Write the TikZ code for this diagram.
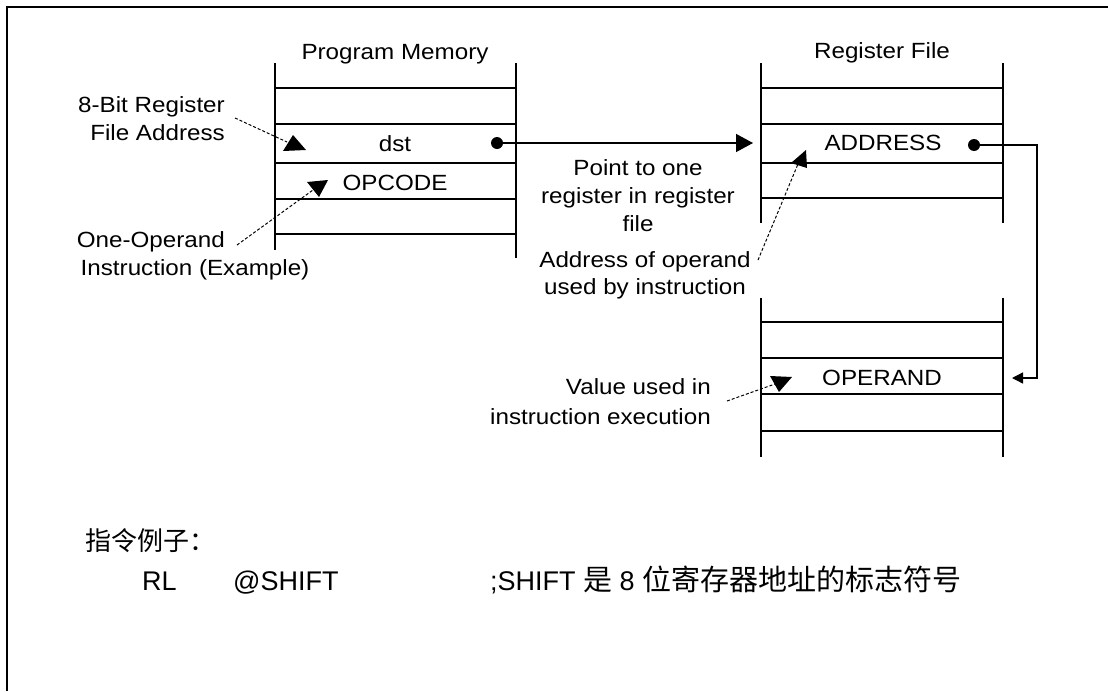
\documentclass[tikz,border=0pt]{standalone}
\usepackage{fontspec}
\setmainfont{Liberation Sans}
\newfontfamily\diagfont[FakeStretch=1.1]{Liberation Sans}
\newfontfamily\cjkfont{Noto Sans CJK SC}
\usetikzlibrary{arrows.meta}
\begin{document}
\begin{tikzpicture}[x=1pt,y=-1pt,
  lbl/.style={font=\diagfont\fontsize{22}{28}\selectfont, inner sep=0pt},
  cell/.style={line width=1.4pt},
  note/.style={line width=1pt, dash pattern=on 3pt off 2pt},
  dotc/.style={fill=black, circle, minimum size=12pt, inner sep=0pt},
  btxt/.style={font=\fontsize{27}{32}\selectfont, inner sep=0pt},
  link/.style={line width=1.4pt}]
\useasboundingbox (0,0) rectangle (1108,691);
\fill[white] (0,0) rectangle (1108,691);
\draw[line width=2pt] (7,691) -- (7,7) -- (1108,7);

% Program memory
\draw[cell] (275,63) -- (275,250);
\draw[cell] (516,63) -- (516,258);
\foreach \y in {88,124,163,199,234} \draw[cell] (275,\y) -- (516,\y);

% Register file (upper)
\draw[cell] (761,63) -- (761,223);
\draw[cell] (1003,63) -- (1003,223);
\foreach \y in {88,124,163,198} \draw[cell] (761,\y) -- (1003,\y);

% Register file (lower)
\draw[cell] (761,298) -- (761,457);
\draw[cell] (1003,298) -- (1003,457);
\foreach \y in {322,358,394,431} \draw[cell] (761,\y) -- (1003,\y);

% titles and cell texts
\node[lbl,anchor=base] (pmt) at (395,59) {Program Memory};
\node[lbl,anchor=base] (rft) at (882,58) {Register File};
\node[lbl,anchor=base] (dst) at (395,151) {dst};
\node[lbl,anchor=base] (opc) at (395,190) {OPCODE};
\node[lbl,anchor=base] (adr) at (883,150) {ADDRESS};
\node[lbl,anchor=base] (opr) at (882,385) {OPERAND};

% annotations
\node[lbl,anchor=base east] (l1a) at (225,112) {8-Bit Register};
\node[lbl,anchor=base east] (l1b) at (225,140) {File Address};
\node[lbl,anchor=base east] (l2a) at (225,247) {One-Operand};
\node[lbl,anchor=base] (l2b) at (195,275) {Instruction (Example)};
\node[lbl,anchor=base] (p1) at (638,175) {Point to one};
\node[lbl,anchor=base] (p2) at (638,203) {register in register};
\node[lbl,anchor=base] (p3) at (638,231) {file};
\node[lbl,anchor=base] (a1) at (645,267) {Address of operand};
\node[lbl,anchor=base] (a2) at (645,294) {used by instruction};
\node[lbl,anchor=base east] (v1) at (711,394) {Value used in};
\node[lbl,anchor=base east] (v2) at (711,424) {instruction execution};

% connectors
\node[dotc] (d1) at (497,143) {};
\node[dotc] (d2) at (974,145) {};
\coordinate (rfin) at (753,143);
\coordinate (opin) at (1012,378);
\draw[link, -{Triangle[length=17pt,width=18pt]}] (d1.center) -- (rfin);
\draw[link, -{Triangle[length=11pt,width=11pt]}] (d2.center) -- (1037,145) |- (opin);

% dashed pointers with heads
\coordinate (s1) at (235,118); \coordinate (e1) at (287,142);
\draw[note] (s1) -- (e1);
\fill (283,151) -- (306,150) -- (293,135) -- cycle;
\coordinate (s2) at (237,245); \coordinate (e2) at (313,190);
\draw[note] (s2) -- (e2);
\fill (307,182) -- (328,180) -- (319,197) -- cycle;
\coordinate (s3) at (758,260); \coordinate (e3) at (798,164);
\draw[note] (s3) -- (e3);
\fill (791,163) -- (807,168) -- (806,150) -- cycle;
\coordinate (s4) at (727,401); \coordinate (e4) at (775,384);
\draw[note] (s4) -- (e4);
\fill (770,376) -- (792,377) -- (779,392) -- cycle;

% bottom example
\node[anchor=base west, inner sep=0pt] (ex) at (85,550) {\cjkfont\fontsize{26}{30}\selectfont 指令例子：};
\node[btxt, anchor=base west] (rl) at (142,590) {RL};
\node[btxt, anchor=base west] (sh) at (233,590) {@SHIFT};
\node[btxt, anchor=base west] (cm) at (490,590) {;SHIFT {\cjkfont\fontsize{29}{32}\selectfont 是} 8 {\cjkfont\fontsize{29}{32}\selectfont 位寄存器地址的标志符号}};
\end{tikzpicture}
\end{document}
